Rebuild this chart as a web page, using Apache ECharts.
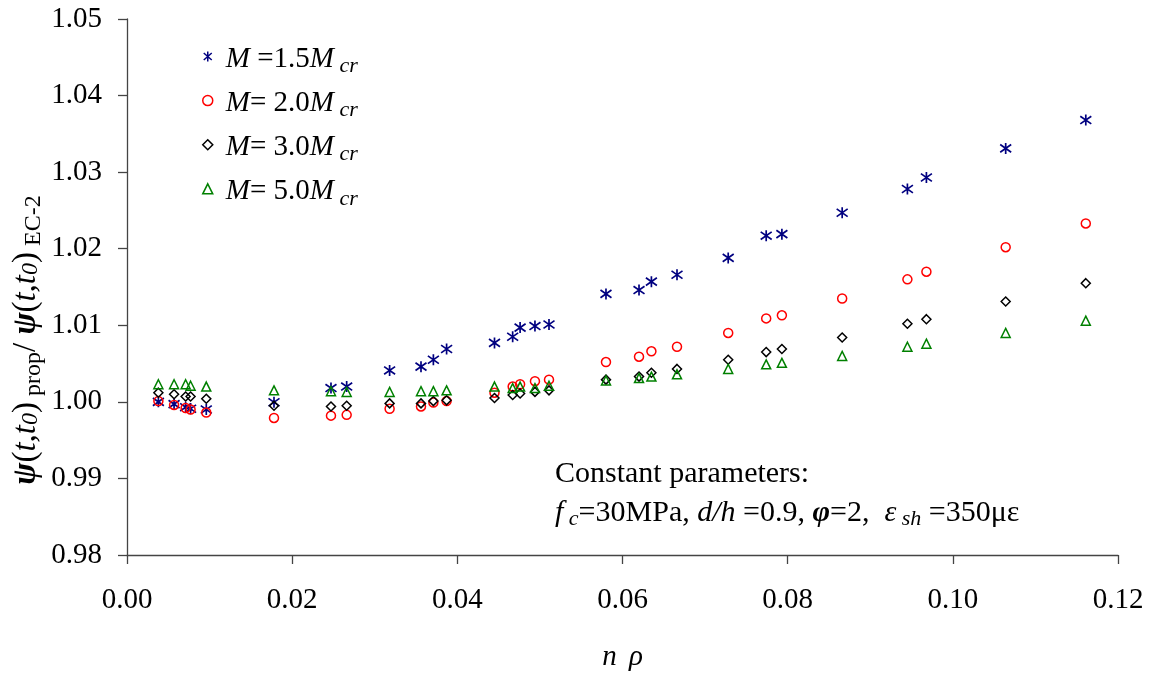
<!DOCTYPE html>
<html>
<head>
<meta charset="utf-8">
<script src="https://cdn.jsdelivr.net/npm/echarts@6/dist/echarts.min.js"></script>
<style>
  html, body { margin: 0; padding: 0; background: #fff; }
  #chart { width: 1152px; height: 673px; }
</style>
</head>
<body>
<div id="chart"></div>
<script>
// n·rho values shared by all four moment levels
const nRho = [0.0038, 0.0057, 0.0071, 0.0077, 0.0096, 0.0178, 0.0247, 0.0266, 0.0318, 0.0356,
              0.0371, 0.0387, 0.0445, 0.0467, 0.0476, 0.0494, 0.0511, 0.0580, 0.0620, 0.0635,
              0.0666, 0.0728, 0.0774, 0.0793, 0.0866, 0.0945, 0.0968, 0.1064, 0.1161];

// ratio psi_prop / psi_EC-2 for each moment level
const ratioM15 = [1.0000, 0.9997, 0.9993, 0.9991, 0.9990, 0.99995, 1.0018, 1.0020, 1.0041, 1.0046,
                  1.0055, 1.0069, 1.0077, 1.0085, 1.0097, 1.0099, 1.0101, 1.0141, 1.0146, 1.0157,
                  1.0166, 1.0188, 1.0217, 1.0219, 1.0247, 1.0278, 1.0293, 1.0331, 1.0368];
const ratioM20 = [1.0001, 0.9996, 0.9992, 0.9990, 0.9986, 0.9979, 0.9982, 0.9983, 0.9991, 0.9994,
                  0.9999, 1.0001, 1.0012, 1.0020, 1.0023, 1.0027, 1.0029, 1.0052, 1.0059, 1.0066,
                  1.0072, 1.0090, 1.0109, 1.0113, 1.0135, 1.0160, 1.0170, 1.0202, 1.0233];
const ratioM30 = [1.0012, 1.0010, 1.0007, 1.0007, 1.0004, 0.9995, 0.9994, 0.9995, 0.9998, 0.9998,
                  1.0001, 1.0002, 1.0005, 1.0009, 1.0011, 1.0013, 1.0015, 1.0029, 1.0033, 1.0038,
                  1.0043, 1.0055, 1.0065, 1.0069, 1.0084, 1.0102, 1.0108, 1.0131, 1.0155];
const ratioM50 = [1.0023, 1.0023, 1.0023, 1.0021, 1.0020, 1.0015, 1.0014, 1.0013, 1.0013, 1.0014,
                  1.0014, 1.0015, 1.0020, 1.0018, 1.0020, 1.0018, 1.0021, 1.0028, 1.0031, 1.0033,
                  1.0036, 1.0043, 1.0049, 1.0051, 1.0060, 1.0072, 1.0076, 1.0090, 1.0106];

// legend entries: series name, legend text, marker, colour
const seriesNames = ['M15', 'M20', 'M30', 'M50'];
const legendTexts = [
  '{mi|M}{m| =1.5}{mi|M}{si| cr}',
  '{mi|M}{m|= 2.0}{mi|M}{si| cr}',
  '{mi|M}{m|= 3.0}{mi|M}{si| cr}',
  '{mi|M}{m|= 5.0}{mi|M}{si| cr}'
];
const seriesValues = [ratioM15, ratioM20, ratioM30, ratioM50];
const markerColors = ['#000080', '#FF0000', '#000000', '#008000'];
const markerShapes = [
  'path://M5,0L5,10M1,1.5L9,8.5M1,8.5L9,1.5',
  'circle',
  'diamond',
  'triangle'
];

const FONT = '"Liberation Serif", "Times New Roman", serif';

// rich-text styles; a subscript is pushed down by half of its top padding
function makeRich(fs, subFs, subDrop, zeroDrop) {
  return {
    m:  { fontFamily: FONT, fontSize: fs, color: '#000' },
    mi: { fontFamily: FONT, fontSize: fs, color: '#000', fontStyle: 'italic' },
    mb: { fontFamily: FONT, fontSize: fs, color: '#000', fontStyle: 'italic', fontWeight: 'bold' },
    s:  { fontFamily: FONT, fontSize: subFs, color: '#000', padding: [subDrop * 2, 0, 0, 0] },
    si: { fontFamily: FONT, fontSize: subFs, color: '#000', fontStyle: 'italic', padding: [subDrop * 2, 0, 0, 0] },
    s0: { fontFamily: FONT, fontSize: subFs, color: '#000', fontStyle: 'italic', padding: [zeroDrop * 2, 0, 0, 0] },
    gap: { fontFamily: FONT, fontSize: fs, color: '#000', padding: [0, 2.5, 0, 2.5] }
  };
}
const legendRich = makeRich(29, 22, 7, 5);
const noteRich = makeRich(30, 22, 6, 5);
const yNameRich = makeRich(33, 24, 8, 5);
const xNameRich = makeRich(29, 22, 6, 5);

const chart = echarts.init(document.getElementById('chart'), null, { renderer: 'canvas' });

const series = seriesNames.map((name, i) => ({
  name: name,
  type: 'scatter',
  symbol: markerShapes[i],
  symbolSize: i === 0 ? 11 : 9,
  data: nRho.map((x, k) => [x, seriesValues[i][k]]),
  itemStyle: {
    color: 'transparent',
    borderColor: markerColors[i],
    borderWidth: i === 0 ? 1.7 : 1.5,
    opacity: 1
  },
  emphasis: { disabled: true },
  silent: true
}));

const yLabel = '{mb|ψ}{m|(}{mi|t,t}{s0|0}{m|)}{s| prop}{m|/ }{mb|ψ}{m|(}{mi|t,t}{s0|0}{m|)}{s| EC-2}';
const paramLine = '{mi|f}{si| c}{m|=30MPa, }{mi|d/h}{m| =0.9, }{mb|φ}{m|=2,  }{mi|ε}{si| sh}{m| =350με}';

chart.setOption({
  animation: false,
  backgroundColor: '#ffffff',
  grid: { left: 127, right: 34, top: 19, bottom: 118, containLabel: false, outerBoundsMode: 'none' },
  legend: {
    orient: 'vertical',
    left: 202,
    top: 45,
    padding: 0,
    itemWidth: 10,
    itemHeight: 10,
    itemGap: 11.6,
    data: seriesNames,
    selectedMode: false,
    itemStyle: { borderWidth: 1.5 },
    formatter: name => legendTexts[seriesNames.indexOf(name)],
    textStyle: { fontFamily: FONT, fontSize: 29, color: '#000', rich: legendRich, padding: [6, 0, 0, 8] }
  },
  xAxis: {
    type: 'value',
    min: 0,
    max: 0.12,
    interval: 0.02,
    name: '{mi|n}{gap| }{mi|ρ}',
    nameLocation: 'middle',
    nameGap: 88,
    nameTextStyle: { rich: xNameRich },
    axisLine: { show: true, lineStyle: { color: '#444', width: 1.3 } },
    axisTick: { show: true, inside: false, length: 9, lineStyle: { color: '#444', width: 1.3 } },
    axisLabel: {
      formatter: v => v.toFixed(2),
      fontFamily: FONT, fontSize: 29, color: '#000', margin: 31
    },
    splitLine: { show: false }
  },
  yAxis: {
    type: 'value',
    min: 0.98,
    max: 1.05,
    interval: 0.01,
    axisLine: { show: true, lineStyle: { color: '#444', width: 1.3 } },
    axisTick: { show: true, inside: false, length: 9, lineStyle: { color: '#444', width: 1.3 } },
    axisLabel: {
      formatter: v => v.toFixed(2),
      fontFamily: FONT, fontSize: 29, color: '#000', margin: 25
    },
    splitLine: { show: false }
  },
  graphic: [
    {
      type: 'text',
      x: 26,
      y: 340,
      rotation: Math.PI / 2,
      silent: true,
      style: {
        text: yLabel,
        rich: yNameRich,
        align: 'center',
        verticalAlign: 'middle'
      }
    },
    {
      type: 'text',
      left: 555,
      top: 459,
      silent: true,
      style: {
        text: 'Constant parameters:',
        fontFamily: FONT,
        fontSize: 30,
        fill: '#000'
      }
    },
    {
      type: 'text',
      left: 555,
      top: 498,
      silent: true,
      style: {
        text: paramLine,
        rich: noteRich
      }
    }
  ],
  series: series
});
</script>
</body>
</html>
